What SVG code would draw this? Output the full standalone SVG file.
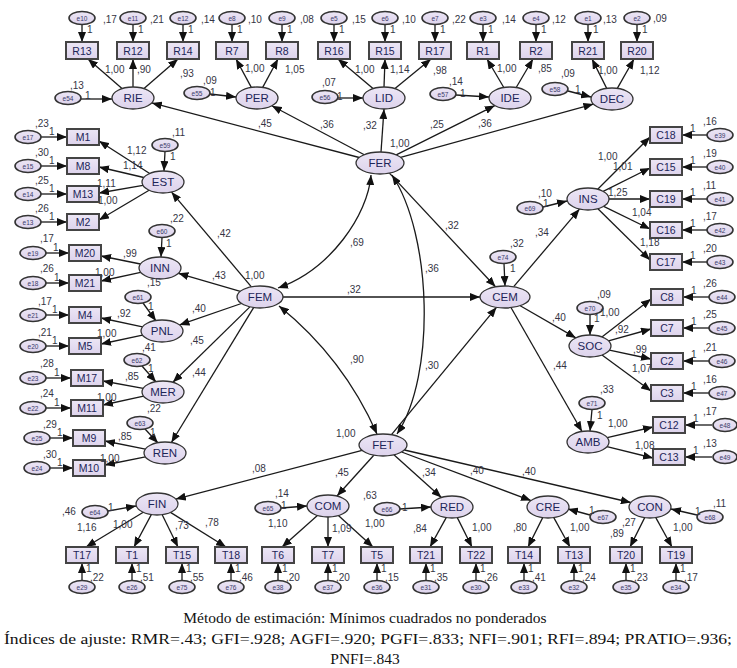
<svg xmlns="http://www.w3.org/2000/svg" width="737" height="668" viewBox="0 0 737 668">
<defs>
<marker id="ah" viewBox="0 0 10 8" refX="10" refY="4" markerWidth="10" markerHeight="8" markerUnits="userSpaceOnUse" orient="auto-start-reverse"><path d="M0,0 L10,4 L0,8 z" fill="#111"/></marker>
<linearGradient id="gf" x1="0" y1="0" x2="0" y2="1"><stop offset="0" stop-color="#ece6f5"/><stop offset="1" stop-color="#ddd3ec"/></linearGradient>
</defs>
<style>
.l{fill:url(#gf);stroke:#333;stroke-width:1.3}
.e{fill:url(#gf);stroke:#333;stroke-width:1.6}
.o{fill:url(#gf);stroke:#444;stroke-width:2}
.t{font-family:"Liberation Sans",Arial,sans-serif;font-size:11.5px;fill:#1d2558;text-anchor:middle}
.tb{font-family:"Liberation Sans",Arial,sans-serif;font-size:10.5px;fill:#1d2558;text-anchor:middle}
.te{font-family:"Liberation Sans",Arial,sans-serif;font-size:6.5px;fill:#3a3a6a;text-anchor:middle}
.n{font-family:"Liberation Sans",Arial,sans-serif;font-size:10px;fill:#353545}
.c line,.c path{stroke:#1a1a1a;stroke-width:1.3;fill:none;marker-end:url(#ah)}
.c .d{marker-start:url(#ah)}
.cap{font-family:"Liberation Serif","Times New Roman",serif;font-size:15.5px;fill:#111;text-anchor:middle}
</style>

<!-- connectors -->
<g id="connectors" class="c">
<line x1="82" y1="24.5" x2="82" y2="42"/><line x1="133" y1="24.5" x2="133" y2="42"/><line x1="183" y1="24.5" x2="183" y2="42"/>
<line x1="232" y1="24.5" x2="232" y2="42"/><line x1="282" y1="24.5" x2="282" y2="42"/>
<line x1="334" y1="24.5" x2="334" y2="42"/><line x1="385" y1="24.5" x2="385" y2="42"/><line x1="435" y1="24.5" x2="435" y2="42"/>
<line x1="483" y1="24.5" x2="483" y2="42"/><line x1="536" y1="24.5" x2="536" y2="42"/>
<line x1="588" y1="24.5" x2="588" y2="42"/><line x1="637" y1="24.5" x2="637" y2="42"/>
<line x1="122" y1="88.6" x2="88" y2="59"/><line x1="133" y1="87" x2="133" y2="59"/><line x1="144" y1="88.6" x2="178" y2="59"/>
<line x1="251.3" y1="87.4" x2="236" y2="59"/><line x1="262.7" y1="87.4" x2="278" y2="59"/>
<line x1="373" y1="88.6" x2="338" y2="59"/><line x1="384" y1="87" x2="385" y2="59"/><line x1="395" y1="88.6" x2="431" y2="59"/>
<line x1="503.8" y1="87.5" x2="487" y2="59"/><line x1="516.2" y1="87.5" x2="533" y2="59"/>
<line x1="606.7" y1="88.4" x2="592" y2="59"/><line x1="617.3" y1="88.4" x2="634" y2="59"/>
<line x1="81" y1="99" x2="112" y2="99"/><line x1="210" y1="94" x2="236" y2="97"/><line x1="338" y1="98" x2="363" y2="98"/>
<line x1="456" y1="95" x2="489" y2="97"/><line x1="568" y1="91" x2="591" y2="97"/>
<line x1="359.2" y1="157.5" x2="151.8" y2="102.9"/><line x1="364.3" y1="154.7" x2="271.8" y2="105.8"/>
<line x1="381" y1="152" x2="384" y2="109"/><line x1="396.2" y1="154.9" x2="494.8" y2="105.6"/>
<line x1="400.6" y1="157.3" x2="593.4" y2="104.1"/>
<line x1="165" y1="151.5" x2="164" y2="171"/>
<line x1="149.7" y1="173.5" x2="99" y2="141"/><line x1="143.8" y1="177.5" x2="99" y2="167"/>
<line x1="143" y1="185.4" x2="99" y2="193"/><line x1="149.1" y1="190.3" x2="99" y2="220"/>
<line x1="41" y1="137" x2="67" y2="137"/><line x1="41" y1="166" x2="67" y2="166"/><line x1="41" y1="194" x2="67" y2="194"/><line x1="41" y1="222" x2="67" y2="222"/>
<line x1="162" y1="237.5" x2="161" y2="257"/>
<line x1="140.4" y1="264" x2="101" y2="256"/><line x1="140.6" y1="272.3" x2="101" y2="281"/>
<line x1="46" y1="253" x2="69" y2="253"/><line x1="46" y1="283" x2="69" y2="283"/>
<line x1="143" y1="303" x2="156" y2="321"/>
<line x1="142.5" y1="326.9" x2="101" y2="318"/><line x1="142.5" y1="335.1" x2="101" y2="344"/>
<line x1="46" y1="315" x2="69" y2="315"/><line x1="46" y1="346" x2="69" y2="346"/>
<line x1="142" y1="366" x2="156" y2="382"/>
<line x1="143.2" y1="388.4" x2="103" y2="381"/><line x1="143.6" y1="396.2" x2="103" y2="405"/>
<line x1="46" y1="378" x2="71" y2="378"/><line x1="46" y1="408" x2="71" y2="408"/>
<line x1="145" y1="429" x2="158" y2="443"/>
<line x1="145.4" y1="449.1" x2="105" y2="441"/><line x1="145.4" y1="456.9" x2="105" y2="465"/>
<line x1="50" y1="438" x2="73" y2="438"/><line x1="50" y1="468" x2="73" y2="468"/>
<line x1="251.4" y1="286.8" x2="171.5" y2="192.1"/><line x1="240.3" y1="291.3" x2="178.4" y2="273.3"/>
<line x1="241.4" y1="303.5" x2="179.5" y2="324.9"/><line x1="249.9" y1="306.9" x2="172.9" y2="382.3"/>
<line x1="253.6" y1="307.6" x2="171.4" y2="442.5"/>
<line x1="283" y1="297" x2="480" y2="297"/>
<line x1="389.4" y1="173.1" x2="495.5" y2="286.8"/>
<line x1="391.5" y1="434.7" x2="496.5" y2="307.3"/>
<path class="d" d="M371,175 C368,215 330,270 278,288"/>
<path class="d" d="M392,175 C432,235 436,375 397,434"/>
<path class="d" d="M279,306 Q343.5,358 377,434"/>
<line x1="504" y1="263.5" x2="505" y2="286"/>
<line x1="513.7" y1="286.7" x2="579.5" y2="209.1"/>
<line x1="520.2" y1="305.7" x2="575.9" y2="337.9"/>
<line x1="511.1" y1="307.7" x2="582" y2="431.5"/>
<line x1="543" y1="207" x2="567" y2="201"/>
<line x1="597.7" y1="189.3" x2="650" y2="137"/><line x1="603.2" y1="191.4" x2="650" y2="168"/>
<line x1="609" y1="199" x2="650" y2="199"/><line x1="603.7" y1="206.3" x2="650" y2="229"/>
<line x1="597.9" y1="208.7" x2="650" y2="260"/>
<line x1="707" y1="135" x2="682" y2="135"/><line x1="707" y1="167" x2="682" y2="167"/><line x1="707" y1="199" x2="682" y2="199"/>
<line x1="707" y1="230" x2="682" y2="230"/><line x1="707" y1="262" x2="682" y2="262"/>
<line x1="590" y1="314.5" x2="590" y2="335"/>
<line x1="601.9" y1="337" x2="651" y2="299"/><line x1="608.5" y1="340.8" x2="651" y2="329"/>
<line x1="609.4" y1="350.1" x2="651" y2="359"/><line x1="602" y1="355" x2="651" y2="391"/>
<line x1="709" y1="297" x2="683" y2="297"/><line x1="709" y1="328" x2="683" y2="328"/>
<line x1="709" y1="361" x2="683" y2="361"/><line x1="709" y1="393" x2="683" y2="393"/>
<line x1="592" y1="409.5" x2="590" y2="431"/>
<line x1="607.2" y1="437.6" x2="653" y2="427"/><line x1="607" y1="446.7" x2="653" y2="458"/>
<line x1="712" y1="425" x2="685" y2="425"/><line x1="712" y1="457" x2="685" y2="457"/>
<line x1="362.1" y1="450.4" x2="175.8" y2="499.1"/><line x1="373.8" y1="455.2" x2="337" y2="496"/>
<line x1="393.9" y1="454.8" x2="441.4" y2="497.5"/><line x1="401.6" y1="452" x2="531" y2="500.6"/>
<line x1="404.4" y1="450" x2="630.8" y2="502.5"/>
<line x1="108" y1="511" x2="136" y2="506"/><line x1="281" y1="508" x2="307" y2="506"/>
<line x1="400" y1="509" x2="431" y2="507"/><line x1="590" y1="515" x2="568" y2="509"/>
<line x1="697" y1="515" x2="671" y2="509"/>
<line x1="143.3" y1="512.3" x2="86" y2="547"/><line x1="151.3" y1="514.6" x2="134" y2="547"/>
<line x1="162.2" y1="514.7" x2="178" y2="547"/><line x1="170.5" y1="512.4" x2="226" y2="547"/>
<line x1="317.4" y1="515.5" x2="282" y2="547"/><line x1="328" y1="517" x2="328" y2="547"/><line x1="338.4" y1="515.5" x2="373" y2="547"/>
<line x1="446.2" y1="517.6" x2="430" y2="547"/><line x1="457.3" y1="517.6" x2="472" y2="547"/>
<line x1="542.7" y1="517.6" x2="528" y2="547"/><line x1="553.8" y1="517.6" x2="570" y2="547"/>
<line x1="644.7" y1="517.6" x2="630" y2="547"/><line x1="655.8" y1="517.6" x2="672" y2="547"/>
<line x1="82" y1="580.5" x2="82" y2="563"/><line x1="132" y1="580.5" x2="132" y2="563"/><line x1="182" y1="580.5" x2="182" y2="563"/>
<line x1="231" y1="580.5" x2="231" y2="563"/><line x1="278" y1="580.5" x2="278" y2="563"/><line x1="328" y1="580.5" x2="328" y2="563"/>
<line x1="377" y1="580.5" x2="377" y2="563"/><line x1="426" y1="580.5" x2="426" y2="563"/><line x1="476" y1="580.5" x2="476" y2="563"/>
<line x1="524" y1="580.5" x2="524" y2="563"/><line x1="574" y1="580.5" x2="574" y2="563"/><line x1="626" y1="580.5" x2="626" y2="563"/>
<line x1="676" y1="580.5" x2="676" y2="563"/>
</g>

<g id="e10"><ellipse class="e" cx="82" cy="18" rx="13" ry="6.5"/><text class="te" x="82" y="20.5">e10</text></g>
<g id="e11"><ellipse class="e" cx="133" cy="18" rx="13" ry="6.5"/><text class="te" x="133" y="20.5">e11</text></g>
<g id="e12"><ellipse class="e" cx="183" cy="18" rx="13" ry="6.5"/><text class="te" x="183" y="20.5">e12</text></g>
<g id="e8"><ellipse class="e" cx="232" cy="18" rx="13" ry="6.5"/><text class="te" x="232" y="20.5">e8</text></g>
<g id="e9"><ellipse class="e" cx="282" cy="18" rx="13" ry="6.5"/><text class="te" x="282" y="20.5">e9</text></g>
<g id="e5"><ellipse class="e" cx="334" cy="18" rx="13" ry="6.5"/><text class="te" x="334" y="20.5">e5</text></g>
<g id="e6"><ellipse class="e" cx="385" cy="18" rx="13" ry="6.5"/><text class="te" x="385" y="20.5">e6</text></g>
<g id="e7"><ellipse class="e" cx="435" cy="18" rx="13" ry="6.5"/><text class="te" x="435" y="20.5">e7</text></g>
<g id="e3"><ellipse class="e" cx="483" cy="18" rx="13" ry="6.5"/><text class="te" x="483" y="20.5">e3</text></g>
<g id="e4"><ellipse class="e" cx="536" cy="18" rx="13" ry="6.5"/><text class="te" x="536" y="20.5">e4</text></g>
<g id="e1"><ellipse class="e" cx="588" cy="18" rx="13" ry="6.5"/><text class="te" x="588" y="20.5">e1</text></g>
<g id="e2"><ellipse class="e" cx="637" cy="18" rx="13" ry="6.5"/><text class="te" x="637" y="20.5">e2</text></g>

<g id="R13"><rect class="o" x="66" y="42" width="32" height="17"/><text class="tb" x="82" y="54.5">R13</text></g>
<g id="R12"><rect class="o" x="117" y="42" width="32" height="17"/><text class="tb" x="133" y="54.5">R12</text></g>
<g id="R14"><rect class="o" x="167" y="42" width="32" height="17"/><text class="tb" x="183" y="54.5">R14</text></g>
<g id="R7"><rect class="o" x="216" y="42" width="32" height="17"/><text class="tb" x="232" y="54.5">R7</text></g>
<g id="R8"><rect class="o" x="266" y="42" width="32" height="17"/><text class="tb" x="282" y="54.5">R8</text></g>
<g id="R16"><rect class="o" x="318" y="42" width="32" height="17"/><text class="tb" x="334" y="54.5">R16</text></g>
<g id="R15"><rect class="o" x="369" y="42" width="32" height="17"/><text class="tb" x="385" y="54.5">R15</text></g>
<g id="R17"><rect class="o" x="419" y="42" width="32" height="17"/><text class="tb" x="435" y="54.5">R17</text></g>
<g id="R1"><rect class="o" x="467" y="42" width="32" height="17"/><text class="tb" x="483" y="54.5">R1</text></g>
<g id="R2"><rect class="o" x="520" y="42" width="32" height="17"/><text class="tb" x="536" y="54.5">R2</text></g>
<g id="R21"><rect class="o" x="572" y="42" width="32" height="17"/><text class="tb" x="588" y="54.5">R21</text></g>
<g id="R20"><rect class="o" x="621" y="42" width="32" height="17"/><text class="tb" x="637" y="54.5">R20</text></g>

<g id="RIE"><ellipse class="l" cx="133" cy="98" rx="21" ry="11"/><text class="t" x="133" y="102">RIE</text></g>
<g id="PER"><ellipse class="l" cx="257" cy="98" rx="21" ry="11"/><text class="t" x="257" y="102">PER</text></g>
<g id="LID"><ellipse class="l" cx="384" cy="98" rx="21" ry="11"/><text class="t" x="384" y="102">LID</text></g>
<g id="IDE"><ellipse class="l" cx="510" cy="98" rx="21" ry="11"/><text class="t" x="510" y="102">IDE</text></g>
<g id="DEC"><ellipse class="l" cx="612" cy="99" rx="21" ry="11"/><text class="t" x="612" y="103">DEC</text></g>
<g id="e54"><ellipse class="e" cx="68" cy="98" rx="13" ry="6.5"/><text class="te" x="68" y="100.5">e54</text></g>
<g id="e55"><ellipse class="e" cx="197" cy="93" rx="13" ry="6.5"/><text class="te" x="197" y="95.5">e55</text></g>
<g id="e56"><ellipse class="e" cx="325" cy="97" rx="13" ry="6.5"/><text class="te" x="325" y="99.5">e56</text></g>
<g id="e57"><ellipse class="e" cx="443" cy="94" rx="13" ry="6.5"/><text class="te" x="443" y="96.5">e57</text></g>
<g id="e58"><ellipse class="e" cx="555" cy="89" rx="13" ry="6.5"/><text class="te" x="555" y="91.5">e58</text></g>

<g id="FER"><ellipse class="l" cx="380" cy="163" rx="24" ry="11"/><text class="t" x="380" y="167">FER</text></g>
<g id="FEM"><ellipse class="l" cx="260" cy="297" rx="23" ry="11"/><text class="t" x="260" y="301">FEM</text></g>
<g id="FET"><ellipse class="l" cx="383" cy="445" rx="24" ry="11"/><text class="t" x="383" y="449">FET</text></g>
<g id="CEM"><ellipse class="l" cx="505" cy="297" rx="25" ry="11"/><text class="t" x="505" y="301">CEM</text></g>
<g id="e74"><ellipse class="e" cx="503" cy="257" rx="13" ry="6.5"/><text class="te" x="503" y="259.5">e74</text></g>

<g id="EST"><ellipse class="l" cx="163" cy="182" rx="21" ry="11"/><text class="t" x="163" y="186">EST</text></g>
<g id="e59"><ellipse class="e" cx="165" cy="145" rx="13" ry="6.5"/><text class="te" x="165" y="147.5">e59</text></g>
<g id="M1"><rect class="o" x="67" y="129" width="32" height="16"/><text class="tb" x="83" y="141">M1</text></g>
<g id="M8"><rect class="o" x="67" y="158" width="32" height="16"/><text class="tb" x="83" y="170">M8</text></g>
<g id="M13"><rect class="o" x="67" y="186" width="32" height="16"/><text class="tb" x="83" y="198">M13</text></g>
<g id="M2"><rect class="o" x="67" y="214" width="32" height="16"/><text class="tb" x="83" y="226">M2</text></g>
<g id="e17"><ellipse class="e" cx="28" cy="137" rx="13" ry="6.5"/><text class="te" x="28" y="139.5">e17</text></g>
<g id="e15"><ellipse class="e" cx="28" cy="166" rx="13" ry="6.5"/><text class="te" x="28" y="168.5">e15</text></g>
<g id="e14"><ellipse class="e" cx="28" cy="194" rx="13" ry="6.5"/><text class="te" x="28" y="196.5">e14</text></g>
<g id="e13"><ellipse class="e" cx="28" cy="222" rx="13" ry="6.5"/><text class="te" x="28" y="224.5">e13</text></g>

<g id="INN"><ellipse class="l" cx="160" cy="268" rx="21" ry="11"/><text class="t" x="160" y="272">INN</text></g>
<g id="e60"><ellipse class="e" cx="162" cy="231" rx="13" ry="6.5"/><text class="te" x="162" y="233.5">e60</text></g>
<g id="M20"><rect class="o" x="69" y="245" width="32" height="16"/><text class="tb" x="85" y="257">M20</text></g>
<g id="M21"><rect class="o" x="69" y="275" width="32" height="16"/><text class="tb" x="85" y="287">M21</text></g>
<g id="e19"><ellipse class="e" cx="33" cy="253" rx="13" ry="6.5"/><text class="te" x="33" y="255.5">e19</text></g>
<g id="e18"><ellipse class="e" cx="33" cy="283" rx="13" ry="6.5"/><text class="te" x="33" y="285.5">e18</text></g>

<g id="PNL"><ellipse class="l" cx="162" cy="331" rx="21" ry="11"/><text class="t" x="162" y="335">PNL</text></g>
<g id="e61"><ellipse class="e" cx="138" cy="297" rx="13" ry="6.5"/><text class="te" x="138" y="299.5">e61</text></g>
<g id="M4"><rect class="o" x="69" y="307" width="32" height="16"/><text class="tb" x="85" y="319">M4</text></g>
<g id="M5"><rect class="o" x="69" y="338" width="32" height="16"/><text class="tb" x="85" y="350">M5</text></g>
<g id="e21"><ellipse class="e" cx="33" cy="315" rx="13" ry="6.5"/><text class="te" x="33" y="317.5">e21</text></g>
<g id="e20"><ellipse class="e" cx="33" cy="346" rx="13" ry="6.5"/><text class="te" x="33" y="348.5">e20</text></g>

<g id="MER"><ellipse class="l" cx="163" cy="392" rx="21" ry="11"/><text class="t" x="163" y="396">MER</text></g>
<g id="e62"><ellipse class="e" cx="137" cy="360" rx="13" ry="6.5"/><text class="te" x="137" y="362.5">e62</text></g>
<g id="M17"><rect class="o" x="71" y="370" width="32" height="16"/><text class="tb" x="87" y="382">M17</text></g>
<g id="M11"><rect class="o" x="71" y="400" width="32" height="16"/><text class="tb" x="87" y="412">M11</text></g>
<g id="e23"><ellipse class="e" cx="33" cy="378" rx="13" ry="6.5"/><text class="te" x="33" y="380.5">e23</text></g>
<g id="e22"><ellipse class="e" cx="33" cy="408" rx="13" ry="6.5"/><text class="te" x="33" y="410.5">e22</text></g>

<g id="REN"><ellipse class="l" cx="165" cy="453" rx="21" ry="11"/><text class="t" x="165" y="457">REN</text></g>
<g id="e63"><ellipse class="e" cx="140" cy="423" rx="13" ry="6.5"/><text class="te" x="140" y="425.5">e63</text></g>
<g id="M9"><rect class="o" x="73" y="430" width="32" height="16"/><text class="tb" x="89" y="442">M9</text></g>
<g id="M10"><rect class="o" x="73" y="460" width="32" height="16"/><text class="tb" x="89" y="472">M10</text></g>
<g id="e25"><ellipse class="e" cx="37" cy="438" rx="13" ry="6.5"/><text class="te" x="37" y="440.5">e25</text></g>
<g id="e24"><ellipse class="e" cx="37" cy="468" rx="13" ry="6.5"/><text class="te" x="37" y="470.5">e24</text></g>

<g id="INS"><ellipse class="l" cx="588" cy="199" rx="21" ry="11"/><text class="t" x="588" y="203">INS</text></g>
<g id="e69"><ellipse class="e" cx="530" cy="208" rx="13" ry="6.5"/><text class="te" x="530" y="210.5">e69</text></g>
<g id="C18"><rect class="o" x="650" y="127" width="32" height="16"/><text class="tb" x="666" y="139">C18</text></g>
<g id="C15"><rect class="o" x="650" y="159" width="32" height="16"/><text class="tb" x="666" y="171">C15</text></g>
<g id="C19"><rect class="o" x="650" y="191" width="32" height="16"/><text class="tb" x="666" y="203">C19</text></g>
<g id="C16"><rect class="o" x="650" y="222" width="32" height="16"/><text class="tb" x="666" y="234">C16</text></g>
<g id="C17"><rect class="o" x="650" y="254" width="32" height="16"/><text class="tb" x="666" y="266">C17</text></g>
<g id="e39"><ellipse class="e" cx="720" cy="135" rx="13" ry="6.5"/><text class="te" x="720" y="137.5">e39</text></g>
<g id="e40"><ellipse class="e" cx="720" cy="167" rx="13" ry="6.5"/><text class="te" x="720" y="169.5">e40</text></g>
<g id="e41"><ellipse class="e" cx="720" cy="199" rx="13" ry="6.5"/><text class="te" x="720" y="201.5">e41</text></g>
<g id="e42"><ellipse class="e" cx="720" cy="230" rx="13" ry="6.5"/><text class="te" x="720" y="232.5">e42</text></g>
<g id="e43"><ellipse class="e" cx="720" cy="262" rx="13" ry="6.5"/><text class="te" x="720" y="264.5">e43</text></g>

<g id="SOC"><ellipse class="l" cx="590" cy="346" rx="21" ry="11"/><text class="t" x="590" y="350">SOC</text></g>
<g id="e70"><ellipse class="e" cx="590" cy="308" rx="13" ry="6.5"/><text class="te" x="590" y="310.5">e70</text></g>
<g id="C8"><rect class="o" x="651" y="289" width="32" height="16"/><text class="tb" x="667" y="301">C8</text></g>
<g id="C7"><rect class="o" x="651" y="320" width="32" height="16"/><text class="tb" x="667" y="332">C7</text></g>
<g id="C2"><rect class="o" x="651" y="353" width="32" height="16"/><text class="tb" x="667" y="365">C2</text></g>
<g id="C3"><rect class="o" x="651" y="385" width="32" height="16"/><text class="tb" x="667" y="397">C3</text></g>
<g id="e44"><ellipse class="e" cx="722" cy="297" rx="13" ry="6.5"/><text class="te" x="722" y="299.5">e44</text></g>
<g id="e45"><ellipse class="e" cx="722" cy="328" rx="13" ry="6.5"/><text class="te" x="722" y="330.5">e45</text></g>
<g id="e46"><ellipse class="e" cx="722" cy="361" rx="13" ry="6.5"/><text class="te" x="722" y="363.5">e46</text></g>
<g id="e47"><ellipse class="e" cx="722" cy="393" rx="13" ry="6.5"/><text class="te" x="722" y="395.5">e47</text></g>

<g id="AMB"><ellipse class="l" cx="588" cy="442" rx="21" ry="11"/><text class="t" x="588" y="446">AMB</text></g>
<g id="e71"><ellipse class="e" cx="592" cy="403" rx="13" ry="6.5"/><text class="te" x="592" y="405.5">e71</text></g>
<g id="C12"><rect class="o" x="653" y="417" width="32" height="16"/><text class="tb" x="669" y="429">C12</text></g>
<g id="C13"><rect class="o" x="653" y="449" width="32" height="16"/><text class="tb" x="669" y="461">C13</text></g>
<g id="e48"><ellipse class="e" cx="725" cy="425" rx="12" ry="6.5"/><text class="te" x="725" y="427.5">e48</text></g>
<g id="e49"><ellipse class="e" cx="725" cy="457" rx="12" ry="6.5"/><text class="te" x="725" y="459.5">e49</text></g>

<g id="FIN"><ellipse class="l" cx="157" cy="504" rx="21" ry="11"/><text class="t" x="157" y="508">FIN</text></g>
<g id="e64"><ellipse class="e" cx="95" cy="512" rx="13" ry="6.5"/><text class="te" x="95" y="514.5">e64</text></g>
<g id="COM"><ellipse class="l" cx="328" cy="506" rx="21" ry="11"/><text class="t" x="328" y="510">COM</text></g>
<g id="e65"><ellipse class="e" cx="268" cy="508" rx="13" ry="6.5"/><text class="te" x="268" y="510.5">e65</text></g>
<g id="RED"><ellipse class="l" cx="452" cy="507" rx="21" ry="11"/><text class="t" x="452" y="511">RED</text></g>
<g id="e66"><ellipse class="e" cx="387" cy="509" rx="13" ry="6.5"/><text class="te" x="387" y="511.5">e66</text></g>
<g id="CRE"><ellipse class="l" cx="548" cy="507" rx="21" ry="11"/><text class="t" x="548" y="511">CRE</text></g>
<g id="e67"><ellipse class="e" cx="603" cy="517" rx="13" ry="6.5"/><text class="te" x="603" y="519.5">e67</text></g>
<g id="CON"><ellipse class="l" cx="650" cy="507" rx="21" ry="11"/><text class="t" x="650" y="511">CON</text></g>
<g id="e68"><ellipse class="e" cx="710" cy="517" rx="13" ry="6.5"/><text class="te" x="710" y="519.5">e68</text></g>

<g id="T17"><rect class="o" x="66" y="547" width="32" height="16"/><text class="tb" x="82" y="559">T17</text></g>
<g id="T1"><rect class="o" x="116" y="547" width="32" height="16"/><text class="tb" x="132" y="559">T1</text></g>
<g id="T15"><rect class="o" x="166" y="547" width="32" height="16"/><text class="tb" x="182" y="559">T15</text></g>
<g id="T18"><rect class="o" x="215" y="547" width="32" height="16"/><text class="tb" x="231" y="559">T18</text></g>
<g id="T6"><rect class="o" x="262" y="547" width="32" height="16"/><text class="tb" x="278" y="559">T6</text></g>
<g id="T7"><rect class="o" x="312" y="547" width="32" height="16"/><text class="tb" x="328" y="559">T7</text></g>
<g id="T5"><rect class="o" x="361" y="547" width="32" height="16"/><text class="tb" x="377" y="559">T5</text></g>
<g id="T21"><rect class="o" x="410" y="547" width="32" height="16"/><text class="tb" x="426" y="559">T21</text></g>
<g id="T22"><rect class="o" x="460" y="547" width="32" height="16"/><text class="tb" x="476" y="559">T22</text></g>
<g id="T14"><rect class="o" x="508" y="547" width="32" height="16"/><text class="tb" x="524" y="559">T14</text></g>
<g id="T13"><rect class="o" x="558" y="547" width="32" height="16"/><text class="tb" x="574" y="559">T13</text></g>
<g id="T20"><rect class="o" x="610" y="547" width="32" height="16"/><text class="tb" x="626" y="559">T20</text></g>
<g id="T19"><rect class="o" x="660" y="547" width="32" height="16"/><text class="tb" x="676" y="559">T19</text></g>

<g id="e29"><ellipse class="e" cx="82" cy="587" rx="13" ry="6.5"/><text class="te" x="82" y="589.5">e29</text></g>
<g id="e26"><ellipse class="e" cx="132" cy="587" rx="13" ry="6.5"/><text class="te" x="132" y="589.5">e26</text></g>
<g id="e75"><ellipse class="e" cx="182" cy="587" rx="13" ry="6.5"/><text class="te" x="182" y="589.5">e75</text></g>
<g id="e76"><ellipse class="e" cx="231" cy="587" rx="13" ry="6.5"/><text class="te" x="231" y="589.5">e76</text></g>
<g id="e38"><ellipse class="e" cx="278" cy="587" rx="13" ry="6.5"/><text class="te" x="278" y="589.5">e38</text></g>
<g id="e37"><ellipse class="e" cx="328" cy="587" rx="13" ry="6.5"/><text class="te" x="328" y="589.5">e37</text></g>
<g id="e36"><ellipse class="e" cx="377" cy="587" rx="13" ry="6.5"/><text class="te" x="377" y="589.5">e36</text></g>
<g id="e31"><ellipse class="e" cx="426" cy="587" rx="13" ry="6.5"/><text class="te" x="426" y="589.5">e31</text></g>
<g id="e30"><ellipse class="e" cx="476" cy="587" rx="13" ry="6.5"/><text class="te" x="476" y="589.5">e30</text></g>
<g id="e33"><ellipse class="e" cx="524" cy="587" rx="13" ry="6.5"/><text class="te" x="524" y="589.5">e33</text></g>
<g id="e32"><ellipse class="e" cx="574" cy="587" rx="13" ry="6.5"/><text class="te" x="574" y="589.5">e32</text></g>
<g id="e35"><ellipse class="e" cx="626" cy="587" rx="13" ry="6.5"/><text class="te" x="626" y="589.5">e35</text></g>
<g id="e34"><ellipse class="e" cx="676" cy="587" rx="13" ry="6.5"/><text class="te" x="676" y="589.5">e34</text></g>

<g id="numbers" class="n">
<text x="103" y="23">,17</text><text x="150" y="23">,21</text><text x="201" y="23">,14</text><text x="248" y="23">,10</text>
<text x="300" y="23">,08</text><text x="352" y="23">,15</text><text x="402" y="23">,10</text><text x="452" y="23">,22</text>
<text x="502" y="23">,14</text><text x="552" y="23">,12</text><text x="603" y="23">,13</text><text x="653" y="22">,09</text>
<text x="87" y="33">1</text><text x="138" y="33">1</text><text x="188" y="33">1</text><text x="237" y="33">1</text>
<text x="287" y="33">1</text><text x="339" y="33">1</text><text x="390" y="33">1</text><text x="440" y="33">1</text>
<text x="488" y="33">1</text><text x="541" y="33">1</text><text x="593" y="33">1</text><text x="642" y="33">1</text>
<text x="105" y="73">1,00</text><text x="137" y="73">,90</text><text x="180" y="77">,93</text>
<text x="245" y="72">1,00</text><text x="285" y="73">1,05</text>
<text x="355" y="73">1,00</text><text x="390" y="73">1,14</text><text x="433" y="74">,98</text>
<text x="497" y="72">1,00</text><text x="538" y="72">,85</text>
<text x="598" y="74">1,00</text><text x="640" y="74">1,12</text>
<text x="70" y="89">,13</text><text x="85" y="99">1</text>
<text x="203" y="84">,09</text><text x="210" y="96">1</text>
<text x="322" y="86">,07</text><text x="337" y="100">1</text>
<text x="449" y="85">,14</text><text x="460" y="97">1</text>
<text x="561" y="77">,09</text><text x="575" y="93">1</text>
<text x="258" y="127">,45</text><text x="320" y="128">,36</text><text x="363" y="129">,32</text>
<text x="430" y="128">,25</text><text x="478" y="127">,36</text>
<text x="390" y="147">1,00</text>
<text x="172" y="136">,11</text><text x="170" y="160">1</text>
<text x="35" y="127">,23</text><text x="49" y="135">1</text>
<text x="35" y="156">,30</text><text x="49" y="164">1</text>
<text x="35" y="184">,25</text><text x="49" y="192">1</text>
<text x="35" y="212">,26</text><text x="49" y="220">1</text>
<text x="127" y="154">1,12</text><text x="123" y="169">1,14</text><text x="97" y="187">1,11</text><text x="98" y="204">1,00</text>
<text x="170" y="222">,22</text><text x="166" y="247">1</text>
<text x="40" y="242">,17</text><text x="53" y="251">1</text>
<text x="40" y="272">,26</text><text x="54" y="281">1</text>
<text x="123" y="257">,99</text><text x="95" y="276">1,00</text><text x="147" y="286">,15</text>
<text x="217" y="237">,42</text><text x="212" y="279">,43</text><text x="245" y="279">1,00</text>
<text x="148" y="310">1</text>
<text x="38" y="305">,17</text><text x="52" y="313">1</text>
<text x="38" y="336">,21</text><text x="52" y="344">1</text>
<text x="117" y="317">,92</text><text x="97" y="337">1,00</text><text x="142" y="351">,41</text>
<text x="192" y="312">,40</text><text x="190" y="344">,45</text><text x="192" y="376">,44</text>
<text x="148" y="372">1</text>
<text x="40" y="367">,28</text><text x="54" y="376">1</text>
<text x="40" y="397">,24</text><text x="54" y="406">1</text>
<text x="125" y="380">,85</text><text x="97" y="401">1,00</text><text x="147" y="412">,22</text>
<text x="150" y="436">1</text>
<text x="43" y="428">,29</text><text x="57" y="436">1</text>
<text x="43" y="458">,30</text><text x="57" y="466">1</text>
<text x="118" y="440">,85</text><text x="100" y="462">1,00</text>
<text x="350" y="246">,69</text><text x="445" y="229">,32</text><text x="425" y="272">,36</text>
<text x="347" y="293">,32</text><text x="350" y="363">,90</text><text x="425" y="369">,30</text>
<text x="336" y="437">1,00</text>
<text x="510" y="247">,32</text><text x="510" y="272">1</text>
<text x="538" y="197">,10</text><text x="543" y="207">1</text><text x="535" y="236">,34</text>
<text x="598" y="160">1,00</text><text x="613" y="170">1,01</text><text x="608" y="196">1,25</text>
<text x="632" y="216">1,04</text><text x="640" y="246">1,18</text>
<text x="703" y="125">,16</text><text x="690" y="132">1</text>
<text x="703" y="157">,19</text><text x="690" y="164">1</text>
<text x="703" y="189">,11</text><text x="690" y="196">1</text>
<text x="703" y="220">,17</text><text x="690" y="227">1</text>
<text x="703" y="252">,20</text><text x="690" y="259">1</text>
<text x="597" y="298">,09</text><text x="594" y="322">1</text>
<text x="552" y="321">,40</text><text x="553" y="369">,44</text>
<text x="600" y="316">1,00</text><text x="615" y="333">,92</text><text x="633" y="353">,99</text><text x="632" y="372">1,07</text>
<text x="703" y="287">,26</text><text x="691" y="294">1</text>
<text x="703" y="318">,25</text><text x="691" y="325">1</text>
<text x="703" y="351">,21</text><text x="691" y="358">1</text>
<text x="703" y="383">,16</text><text x="691" y="390">1</text>
<text x="600" y="393">,33</text><text x="597" y="419">1</text>
<text x="608" y="427">1,00</text><text x="635" y="449">1,08</text>
<text x="703" y="415">,17</text><text x="693" y="422">1</text>
<text x="703" y="447">,13</text><text x="693" y="454">1</text>
<text x="252" y="472">,08</text><text x="335" y="476">,45</text><text x="422" y="476">,34</text>
<text x="470" y="474">,40</text><text x="522" y="475">,40</text>
<text x="62" y="515">,46</text><text x="108" y="511">1</text>
<text x="77" y="531">1,16</text><text x="113" y="528">1,00</text><text x="175" y="529">,73</text><text x="205" y="526">,78</text>
<text x="275" y="497">,14</text><text x="281" y="509">1</text>
<text x="268" y="527">1,10</text><text x="332" y="532">1,09</text><text x="365" y="527">1,00</text><text x="363" y="499">,63</text>
<text x="402" y="511">1</text><text x="413" y="532">,84</text><text x="472" y="531">1,00</text>
<text x="589" y="514">1</text><text x="513" y="531">,80</text><text x="570" y="531">1,00</text>
<text x="695" y="515">1</text><text x="713" y="507">,11</text><text x="622" y="526">,27</text><text x="610" y="537">,89</text><text x="673" y="531">1,00</text>
<text x="86" y="572">1</text><text x="90" y="581">,22</text>
<text x="136" y="572">1</text><text x="140" y="581">,51</text>
<text x="186" y="572">1</text><text x="190" y="581">,55</text>
<text x="235" y="572">1</text><text x="239" y="581">,46</text>
<text x="282" y="572">1</text><text x="286" y="581">,20</text>
<text x="332" y="572">1</text><text x="336" y="581">,20</text>
<text x="381" y="572">1</text><text x="385" y="581">,15</text>
<text x="430" y="572">1</text><text x="434" y="581">,35</text>
<text x="480" y="572">1</text><text x="484" y="581">,26</text>
<text x="528" y="572">1</text><text x="532" y="581">,41</text>
<text x="578" y="572">1</text><text x="582" y="581">,24</text>
<text x="630" y="572">1</text><text x="634" y="581">,23</text>
<text x="680" y="572">1</text><text x="684" y="581">,17</text>
</g>

<g id="caption">
<text class="cap" x="365" y="623">Método de estimación: Mínimos cuadrados no ponderados</text>
<text class="cap" x="368" y="644" textLength="728" lengthAdjust="spacingAndGlyphs">Índices de ajuste: RMR=.43; GFI=.928; AGFI=.920; PGFI=.833; NFI=.901; RFI=.894; PRATIO=.936;</text>
<text class="cap" x="365" y="664">PNFI=.843</text>
</g>
</svg>
